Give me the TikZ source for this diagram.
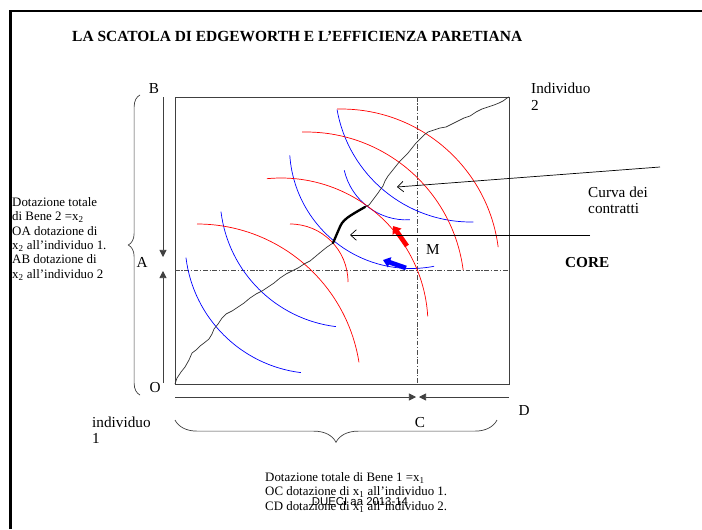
\documentclass[tikz,border=0pt]{standalone}
\usepackage{fontspec}
\setmainfont{Liberation Serif}
\setsansfont{Liberation Sans}
\usetikzlibrary{arrows.meta, decorations.pathreplacing, calc}

\begin{document}
\begin{tikzpicture}[x=0.03cm, y=0.03cm,
  lbl/.style={inner sep=0pt, anchor=base, font=\fontsize{13}{14}\selectfont},
  note/.style={inner sep=0pt, anchor=north west, align=left},
  boxline/.style={draw=black!75, line width=0.6pt},
  guide/.style={draw=black!70, line width=0.6pt, dash pattern=on 4pt off 1.5pt on 1pt off 1.5pt},
  indiffone/.style={draw=blue, line width=0.6pt},
  indifftwo/.style={draw=red, line width=0.6pt},
  contract/.style={draw=black!80, line width=0.6pt, line join=round},
  corepart/.style={draw=black, line width=2pt, line cap=round, line join=round},
  fatarrow/.style={line width=4pt, -{Triangle[length=6pt,width=9pt]}},
  endowarrow/.style={boxline, -{Triangle[length=6pt,width=6pt]}},
  pointer/.style={draw=black, line width=0.6pt, -{Straight Barb[length=5pt,width=9pt]}}
]
\useasboundingbox (0,0) rectangle (702,-529);
\draw[line width=2pt] (10.5,-529) -- (10.5,-11) -- (702,-11);

\node[inner sep=0pt, anchor=base west, font=\fontsize{13.2}{15}\selectfont\bfseries] (title) at (72,-41)
  {LA SCATOLA DI EDGEWORTH E L’EFFICIENZA PARETIANA};

\coordinate (O) at (175,-384);
\coordinate (Q) at (509,-97);
\coordinate (M) at (417,-270);
\draw[boxline] (O) rectangle (Q);
\draw[guide] (O |- M) -- (Q |- M);
\draw[guide] (M |- Q) -- (M |- O);

% individuo 1
\draw[indiffone] (317,-241.6) ++(187:132) arc[start angle=187, end angle=263, radius=132];
\draw[indiffone] (352,-195.6) ++(187:132) arc[start angle=187, end angle=263, radius=132];
\draw[indiffone] (411,-147) ++(184:121.5) arc[start angle=184, end angle=281, radius=121.5];
\draw[indiffone] (406.6,-155.9) ++(193:64) arc[start angle=193, end angle=273, radius=64];
\draw[indiffone] (471,-86) ++(190:136) arc[start angle=190, end angle=271, radius=136];
% individuo 2
\draw[indifftwo] (197,-388) ++(90:164) arc[start angle=90, end angle=9, radius=164];
\draw[indifftwo] (290,-282) ++(90:58) arc[start angle=90, end angle=0, radius=58];
\draw[indifftwo] (281,-325) ++(95.5:147) arc[start angle=95.5, end angle=3.4, radius=147];
\draw[indifftwo] (306,-290.5) ++(91.4:158.5) arc[start angle=91.4, end angle=7.4, radius=158.5];
\draw[indifftwo] (341,-267.5) ++(91.4:158.5) arc[start angle=91.4, end angle=7.4, radius=158.5];

\draw[contract] plot coordinates {(175,-384) (177,-378) (181,-372) (185,-367) (189,-360) (192,-353)
  (196,-350) (200,-346) (204,-343) (209,-339) (212,-334) (214,-329) (218,-324) (222,-318)
  (226,-314) (232,-311) (238,-307) (244,-303) (250,-298) (256,-294) (262,-291) (268,-287)
  (274,-283) (280,-278) (286,-274) (292,-271) (298,-268) (304,-264) (310,-261) (316,-256)
  (322,-251) (327,-247) (333,-243) (336,-236) (339,-229) (342,-223) (347,-218) (353,-214)
  (358,-211) (365,-207) (369,-205) (372,-201) (375,-197) (378,-193) (380,-190) (383,-186)
  (385,-181) (388,-176) (392,-171) (396,-166) (400,-161) (404,-157) (408,-153) (412,-148)
  (416,-143) (420,-139) (424,-135) (428,-132) (434,-130) (440,-128) (446,-127) (452,-124)
  (458,-121) (464,-118) (470,-116) (476,-112) (482,-109) (488,-107) (494,-105) (499,-103)
  (503,-101) (507,-98) (509,-97)};
\draw[corepart] plot[smooth] coordinates {(333,-243) (336,-236) (339,-229) (342,-223)
  (347,-218) (353,-214) (358,-211) (365,-207)};

\coordinate (redtail) at (407,-246);
\coordinate (redhead) at (393,-226);
\draw[red, fatarrow] (redtail) -- (redhead);
\coordinate (bluetail) at (406,-268);
\coordinate (bluehead) at (383,-260);
\draw[blue, fatarrow] (bluetail) -- (bluehead);

\coordinate (Bend) at (163,-97);
\coordinate (Aup) at (163,-257);
\coordinate (Adown) at (163,-271);
\coordinate (Oend) at (163,-383);
\draw[endowarrow] (Bend) -- (Aup);
\draw[endowarrow] (Oend) -- (Adown);
\coordinate (Ostart) at (175,-397);
\coordinate (Cleft) at (416,-397);
\coordinate (Cright) at (419,-397);
\coordinate (Dend) at (509,-397);
\draw[endowarrow] (Ostart) -- (Cleft);
\draw[endowarrow] (Dend) -- (Cright);

\draw[boxline, decorate, decoration={brace, amplitude=10pt}] (140,-395) -- (140,-95);
\draw[boxline, decorate, decoration={brace, amplitude=19pt}] (497,-420) -- (175,-420);

\coordinate (curvatail) at (660,-167);
\coordinate (curvahead) at (397,-187);
\draw[pointer] (curvatail) -- (curvahead);
\coordinate (coretail) at (590,-235);
\coordinate (corehead) at (350,-235);
\draw[pointer] (coretail) -- (corehead);

\node[lbl] (labB) at (154,-93) {B};
\node[lbl] (labA) at (142,-267) {A};
\node[lbl] (labO) at (155,-392) {O};
\node[lbl] (labC) at (420,-427) {C};
\node[lbl] (labD) at (524,-415) {D};
\node[lbl] (labM) at (433,-254) {M};
\node[lbl, anchor=base west, font=\fontsize{13}{14}\selectfont\bfseries] (labcore) at (565,-267) {CORE};

\node[note, font=\fontsize{13}{14.5}\selectfont] (ind2) at (531,-82.5) {Individuo\\2};
\node[note, font=\fontsize{13}{14}\selectfont] (ind1) at (92,-416.6) {individuo\\1};
\node[note, font=\fontsize{13}{14}\selectfont] (curva) at (588,-186.6) {Curva dei\\contratti};

\node[note, font=\fontsize{11}{12.3}\selectfont] (bene2) at (12,-197)
  {Dotazione totale\\di Bene 2 =x\textsubscript{2}\\OA dotazione di\\x\textsubscript{2} all’individuo 1.\\AB dotazione di\\x\textsubscript{2} all’individuo 2};
\node[note, font=\fontsize{11}{12.5}\selectfont] (bene1) at (265,-472)
  {Dotazione totale di Bene 1 =x\textsubscript{1}\\OC dotazione di x\textsubscript{1} all’individuo 1.\\CD dotazione di x\textsubscript{1} all’individuo 2.};
\node[inner sep=0pt, anchor=base, font=\sffamily\fontsize{9.7}{11}\selectfont] (dueci) at (360,-505) {DUECI aa 2013-14};
\end{tikzpicture}
\end{document}
